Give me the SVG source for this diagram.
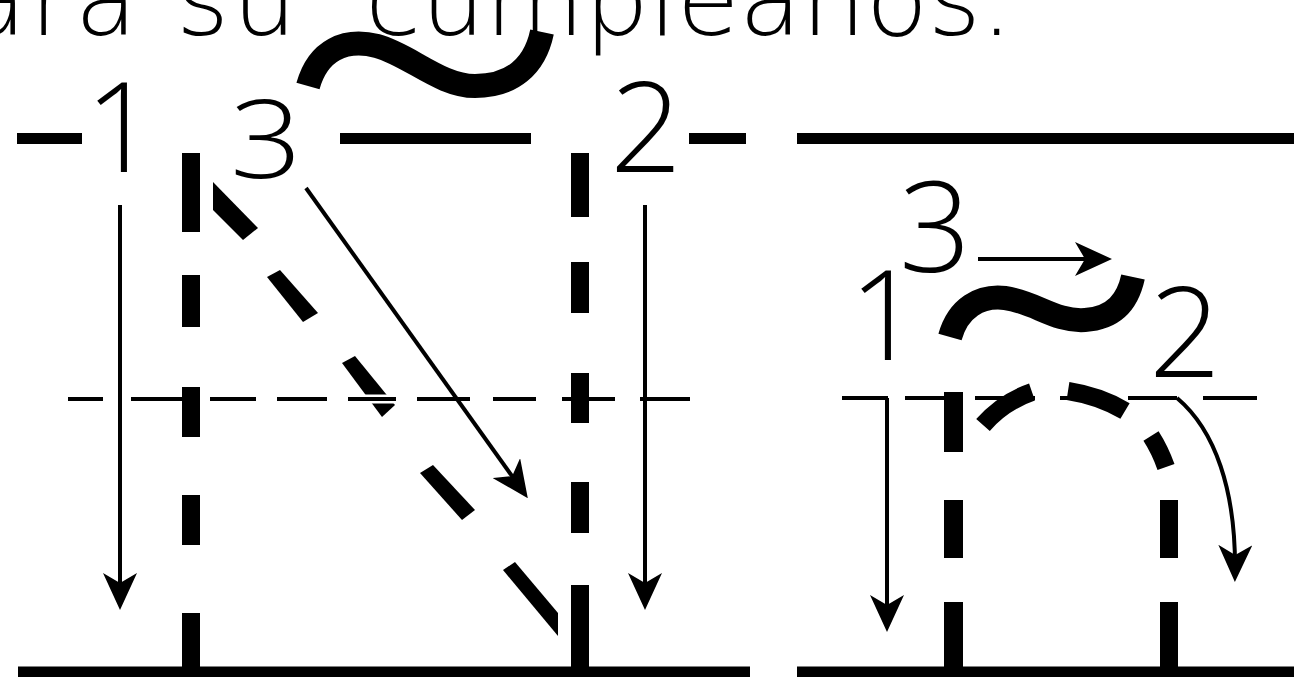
<svg xmlns="http://www.w3.org/2000/svg" width="1294" height="677" viewBox="0 0 1294 677">
  <style>
    .txt { font-family: "DejaVu Sans", "Liberation Sans", sans-serif; font-weight: 200; fill: #000; }
    .num { font-family: "Open Sans", "Liberation Sans", sans-serif; font-weight: 300; font-size: 126px; fill: #000; text-anchor: middle; }
    .rule { stroke: #000; stroke-width: 11; fill: none; }
    .mid { stroke: #000; stroke-width: 4; fill: none; }
    .halo { stroke: #fff; stroke-width: 9; fill: none; }
    .bar { fill: #000; }
    .thick { stroke: #000; stroke-width: 18; fill: none; stroke-linecap: butt; }
    .tilde { stroke: #000; stroke-width: 24; fill: none; stroke-linecap: butt; }
    .arrow { stroke: #000; stroke-width: 4; fill: none; marker-end: url(#ah); }
  </style>
  <defs>
    <marker id="ah" viewBox="0 0 37 34" refX="27" refY="17" markerWidth="37" markerHeight="34" markerUnits="userSpaceOnUse" orient="auto">
      <path d="M0,0 L37,17 L0,34 L10,17 Z" fill="#000"/>
    </marker>
  </defs>
  <rect width="1294" height="677" fill="#fff"/>

  <g id="sentence">
    <text class="txt" x="-36" y="35" font-size="102" textLength="333">ara su</text>
    <text class="txt" x="365" y="35" font-size="102" textLength="648">cumpleaños.</text>
  </g>

  <g id="guides-left">
    <path class="rule" d="M17,138.5 H82 M340,138.5 H531 M689,138.5 H746"/>
    <path class="rule" d="M18,672 H750"/>
    <path class="mid" d="M68,399 H103 M131,399 H182 M210,399 H256 M277,399 H327 M417,399 H470 M493,399 H536 M562,399 H615 M640,399 H690"/>
  </g>

  <g id="guides-right">
    <path class="rule" d="M797,138.5 H1294"/>
    <path class="rule" d="M797,672 H1294"/>
    <path class="mid" d="M842,398 H888 M905,398 H953 M975,398 H1035 M1060,398 H1100 M1128,398 H1177 M1203,398 H1257"/>
  </g>

  <g id="letter-N">
    <g id="N-left-stem">
      <rect class="bar" x="182" y="153" width="18" height="79"/>
      <rect class="bar" x="182" y="275" width="18" height="52"/>
      <rect class="bar" x="182" y="387" width="18" height="50"/>
      <rect class="bar" x="182" y="495" width="18" height="50"/>
      <rect class="bar" x="182" y="613" width="18" height="56"/>
    </g>
    <g id="N-diagonal">
      <polygon class="bar" points="213,182 258,228 243,240 213,210"/>
      <polygon class="bar" points="267,277 280,270 318,313 303,322"/>
      <polygon class="bar" points="342,363 355,356 395,405 382,417"/>
      <polygon class="bar" points="420,473 433,465 475,510 462,520"/>
      <polygon class="bar" points="503,570 515,562 558,613 558,636"/>
    </g>
    <g id="N-right-stem">
      <rect class="bar" x="571" y="153" width="18" height="64"/>
      <rect class="bar" x="571" y="262" width="18" height="51"/>
      <rect class="bar" x="571" y="373" width="18" height="50"/>
      <rect class="bar" x="571" y="482" width="18" height="51"/>
      <rect class="bar" x="571" y="585" width="18" height="84"/>
    </g>
    <path id="N-tilde" class="tilde" d="M308,86 C318,50 345,38 377,46 C410,55 440,86 475,86 C512,86 535,66 542,32"/>
    <path class="halo" d="M360,399 H396"/>
    <path class="mid" d="M348,399 H396"/>
  </g>

  <g id="letter-n">
    <g id="n-left-stem">
      <rect class="bar" x="944" y="392" width="19" height="60"/>
      <rect class="bar" x="944" y="500" width="19" height="58"/>
      <rect class="bar" x="944" y="602" width="19" height="67"/>
    </g>
    <g id="n-arch">
      <path class="thick" d="M983,425 Q1003,402 1032,392" stroke-width="17"/>
      <path class="thick" d="M1068,391 Q1100,396 1125,411" stroke-width="19"/>
      <path class="thick" d="M1151,436 Q1160,450 1166,467" stroke-width="16"/>
    </g>
    <g id="n-right-stem">
      <rect class="bar" x="1160" y="500" width="18" height="58"/>
      <rect class="bar" x="1160" y="602" width="18" height="67"/>
    </g>
    <path id="n-tilde" class="tilde" stroke-width="22" d="M950,337 C958,308 980,295 1005,298 C1035,302 1055,322 1085,320 C1115,318 1128,300 1133,277"/>
  </g>

  <g id="connectors">
    <path class="arrow" d="M120,205 V600"/>
    <path class="arrow" d="M645,205 V600"/>
    <path class="arrow" d="M306,188 L522,490"/>
    <path class="arrow" d="M887,398 V622"/>
    <path class="arrow" d="M978,259 H1102"/>
    <path class="arrow" d="M1177,398 C1215,430 1236,490 1235,572"/>
  </g>

  <g id="labels">
    <text class="num" x="121" y="172">1</text>
    <text class="num" transform="translate(266,178) scale(1,0.87)" x="0" y="0">3</text>
    <text class="num" x="646" y="172">2</text>
    <text class="num" x="885" y="360">1</text>
    <text class="num" x="935" y="272">3</text>
    <text class="num" x="1185" y="377">2</text>
  </g>
</svg>
